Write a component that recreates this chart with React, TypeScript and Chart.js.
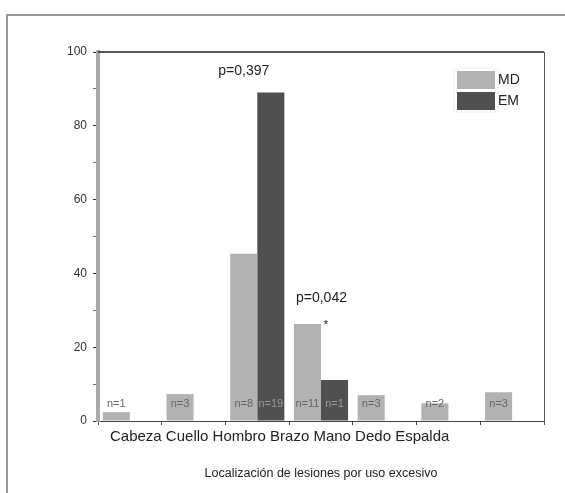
import React, { useEffect, useRef } from "react";
import { Chart, registerables } from "chart.js";

Chart.register(...registerables);

const categories = ["Cabeza", "Cuello", "Hombro", "Brazo", "Mano", "Dedo", "Espalda"];
const mdValues = [2.4, 7.3, 45.3, 26.3, 7.0, 4.8, 7.8];
const emValues: (number | null)[] = [null, null, 89, 11.1, null, null, null];
const mdCounts = ["n=1", "n=3", "n=8", "n=11", "n=3", "n=2", "n=3"];
const emCounts = ["", "", "n=19", "n=1", "", "", ""];
const pValueLabels = ["", "", "p=0,397", "p=0,042", "", "", ""];
const significance = ["", "", "", "*", "", "", ""];
const seriesNames = ["MD", "EM"];
const xAxisTitle = "Localización de lesiones por uso excesivo";

const MD_COLOR = "#b2b2b2";
const EM_COLOR = "#505050";
const FONT = '"Liberation Sans", Arial, sans-serif';

const decorPlugin = {
  id: "decor",
  afterDatasetsDraw(chart: any) {
    const { ctx, chartArea, scales } = chart;
    const y = scales.y;
    const base = y.getPixelForValue(0);
    const mdMeta = chart.getDatasetMeta(0);
    const emMeta = chart.getDatasetMeta(1);
    ctx.save();

    // top & right frame of plot
    ctx.strokeStyle = "#222";
    ctx.lineWidth = 1.5;
    ctx.beginPath();
    ctx.moveTo(chartArea.left, chartArea.top);
    ctx.lineTo(chartArea.right, chartArea.top);
    ctx.stroke();
    ctx.strokeStyle = "#555";
    ctx.lineWidth = 1;
    ctx.beginPath();
    ctx.moveTo(chartArea.right + 0.5, chartArea.top);
    ctx.lineTo(chartArea.right + 0.5, chartArea.bottom + 4);
    ctx.stroke();

    // n labels
    ctx.font = "11px " + FONT;
    ctx.textAlign = "center";
    ctx.textBaseline = "middle";
    categories.forEach((_, i) => {
      ctx.fillStyle = "#666";
      if (mdCounts[i]) ctx.fillText(mdCounts[i], mdMeta.data[i].x, base - 17);
      ctx.fillStyle = "#9a9a9a";
      if (emCounts[i]) ctx.fillText(emCounts[i], emMeta.data[i].x, base - 17);
    });

    // p values
    const pOffsets: Record<number, { dx: number; dy: number }> = {
      2: { dx: 0, dy: -21 },
      3: { dx: 14, dy: -26 },
    };
    ctx.font = "14px " + FONT;
    ctx.fillStyle = "#222";
    categories.forEach((_, i) => {
      if (!pValueLabels[i]) return;
      const md = mdMeta.data[i];
      const em = emMeta.data[i];
      const top = Math.min(md.y, em && emValues[i] != null ? em.y : md.y);
      const o = pOffsets[i] || { dx: 0, dy: -22 };
      ctx.fillText(pValueLabels[i], md.x + o.dx, top + o.dy);
    });

    // significance marks
    ctx.font = "bold 11px " + FONT;
    ctx.fillStyle = "#555";
    categories.forEach((_, i) => {
      if (!significance[i]) return;
      const md = mdMeta.data[i];
      ctx.fillText(significance[i], md.x + md.width / 2 + 5, md.y + 1);
    });

    // category string
    ctx.font = "15px " + FONT;
    ctx.fillStyle = "#222";
    ctx.textAlign = "left";
    ctx.fillText(categories.join(" "), chartArea.left + 12, chartArea.bottom + 16);

    // x title
    ctx.font = "12.5px " + FONT;
    ctx.textAlign = "center";
    ctx.fillText(xAxisTitle, (chartArea.left + chartArea.right) / 2, chartArea.bottom + 53);

    // legend
    const lx = chartArea.right - 87;
    const ly = chartArea.top + 19;
    ctx.strokeStyle = "#eee";
    ctx.lineWidth = 1;
    ctx.strokeRect(lx - 3, ly - 3, 44, 44);
    const cols = [MD_COLOR, EM_COLOR];
    seriesNames.forEach((name, k) => {
      ctx.fillStyle = cols[k];
      ctx.fillRect(lx, ly + k * 21, 38, 18);
      ctx.fillStyle = "#222";
      ctx.font = "14px " + FONT;
      ctx.textAlign = "left";
      ctx.fillText(name, lx + 41, ly + k * 21 + 9);
    });

    ctx.restore();
  },
};

export default function App() {
  const ref = useRef<HTMLCanvasElement | null>(null);
  useEffect(() => {
    if (!ref.current) return;
    const chart = new Chart(ref.current, {
      type: "bar",
      data: {
        labels: categories,
        datasets: [
          { label: seriesNames[0], data: mdValues, backgroundColor: MD_COLOR },
          { label: seriesNames[1], data: emValues as any, backgroundColor: EM_COLOR },
        ],
      },
      options: {
        animation: false,
        responsive: false,
        devicePixelRatio: 1,
        layout: { padding: { left: 0, top: 52, right: 21, bottom: 0 } },
        datasets: { bar: { categoryPercentage: 0.85, barPercentage: 1 } },
        plugins: { legend: { display: false }, tooltip: { enabled: false } },
        scales: {
          x: {
            offset: true,
            grid: { display: true, drawOnChartArea: false, tickLength: 4, color: "#444", offset: true },
            border: { color: "#444", width: 1 },
            ticks: { display: false },
            afterFit: (s: any) => {
              s.height = 72;
            },
          },
          y: {
            min: 0,
            max: 100,
            grid: {
              drawOnChartArea: false,
              tickLength: 5,
              tickColor: (c: any) => (c.tick && c.tick.value % 20 === 0 ? "#333" : "#777"),
            },
            border: { color: "#aaa", width: 4 },
            ticks: {
              stepSize: 10,
              padding: 6,
              color: "#333",
              font: { size: 12, family: FONT },
              callback: (v: any) => (Number(v) % 20 === 0 ? String(v) : ""),
            },
            afterFit: (s: any) => {
              s.width = 98;
            },
          },
        },
      },
      plugins: [decorPlugin],
    });
    return () => chart.destroy();
  }, []);
  return (
    <div style={{ position: "absolute", left: 0, top: 0, width: 565, height: 493, background: "#fff" }}>
      <div
        style={{
          position: "absolute",
          left: 6,
          top: 14,
          width: 565 - 8,
          height: 493 - 16,
          borderLeft: "2px solid #999",
          borderTop: "2px solid #999",
        }}
      />
      <canvas ref={ref} width={565} height={493} style={{ position: "absolute", left: 0, top: 0 }} />
    </div>
  );
}
